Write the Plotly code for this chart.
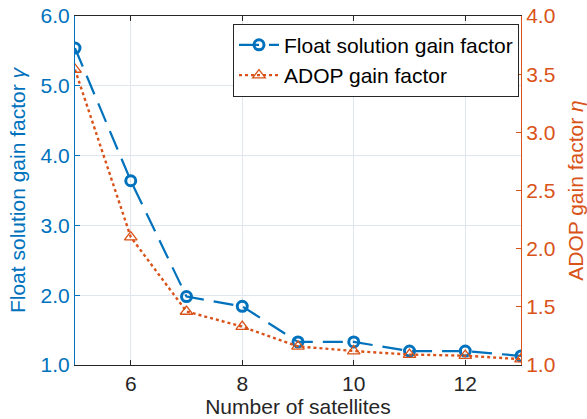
import plotly.graph_objects as go

satellites = [5, 6, 7, 8, 9, 10, 11, 12, 13]
float_gain = [5.54, 3.64, 1.98, 1.84, 1.33, 1.33, 1.20, 1.20, 1.13]
adop_gain = [3.54, 2.10, 1.46, 1.33, 1.16, 1.12, 1.09, 1.08, 1.05]

BLUE = "#0072BD"
ORANGE = "#D95319"
FONT = "Liberation Sans, Arial, sans-serif"
FS = 21

fig = go.Figure()
fig.add_trace(go.Scatter(
    x=satellites, y=float_gain, name="Float solution gain factor",
    mode="lines+markers",
    line=dict(color=BLUE, width=2.2, dash="20px,10px"),
    marker=dict(symbol="circle-open", size=10, color=BLUE, line=dict(width=3, color=BLUE)),
    yaxis="y",
))
fig.add_trace(go.Scatter(
    x=satellites, y=adop_gain, name="ADOP gain factor",
    mode="lines+markers",
    line=dict(color=ORANGE, width=2.4, dash="dot"),
    marker=dict(symbol="triangle-up-open", size=11, color=ORANGE, line=dict(width=1.3, color=ORANGE)),
    yaxis="y2",
))

fig.update_layout(
    width=587, height=419,
    margin=dict(l=75, r=66, t=16, b=54),
    paper_bgcolor="white", plot_bgcolor="white",
    font=dict(family=FONT, size=FS, color="#262626"),
    showlegend=True,
    legend=dict(
        x=0.9955, y=0.978, xanchor="right", yanchor="top",
        bgcolor="white", bordercolor="#262626", borderwidth=1,
        font=dict(family=FONT, size=FS, color="black"),
        tracegroupgap=0, itemwidth=40,
    ),
    xaxis=dict(
        range=[5, 13], tickvals=[6, 8, 10, 12],
        showgrid=True, gridcolor="#dfe6ee", gridwidth=1,
        showline=True, linecolor="#262626", linewidth=1, mirror="ticks",
        ticks="inside", ticklen=5, tickcolor="#262626",
        zeroline=False, automargin=False,
        tickfont=dict(size=FS, color="#262626"),
        title=dict(text="Number of satellites", font=dict(size=FS, color="#262626"), standoff=2),
    ),
    yaxis=dict(
        range=[1, 6], tickvals=[1, 2, 3, 4, 5, 6], tickformat=".1f",
        showgrid=True, gridcolor="#dfe6ee", gridwidth=1,
        showline=True, linecolor=BLUE, linewidth=1,
        ticks="inside", ticklen=5, tickcolor=BLUE,
        zeroline=False, automargin=False,
        tickfont=dict(size=FS, color=BLUE),
        title=dict(text="Float solution gain factor <i>γ</i>", font=dict(size=FS, color=BLUE), standoff=9),
    ),
    yaxis2=dict(
        range=[1, 4], tickvals=[1, 1.5, 2, 2.5, 3, 3.5, 4], tickformat=".1f",
        overlaying="y", side="right",
        showgrid=False,
        showline=True, linecolor=ORANGE, linewidth=1,
        ticks="inside", ticklen=5, tickcolor=ORANGE,
        zeroline=False, automargin=False,
        tickfont=dict(size=FS, color=ORANGE),
        title=dict(text="ADOP gain factor <i>η</i>", font=dict(size=FS, color=ORANGE), standoff=13),
    ),
)

fig.write_html("out.html")
